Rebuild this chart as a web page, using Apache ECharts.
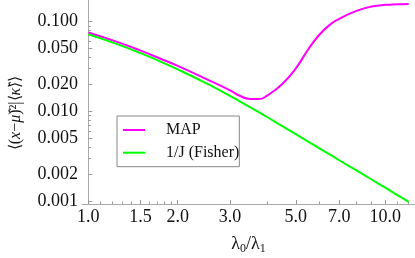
<!DOCTYPE html>
<html><head><meta charset="utf-8">
<script src="https://cdn.jsdelivr.net/npm/echarts@6/dist/echarts.min.js"></script>
<style>html,body{margin:0;padding:0;background:#fff}#c{width:415px;height:258px}</style>
</head><body><div id="c"></div>
<script>
// lambda0/lambda1 sample positions
const ratio = [1.0,1.25,1.5,1.75,2.0,2.5,3.0,3.25,3.5,3.75,4.0,4.5,5.0,5.5,6.0,6.5,7.0,8.0,9.0,10.0,11.0,12.0];
// MAP curve
const mapValues = [0.0757,0.0595,0.0476,0.0387,0.0322,0.0230,0.01725,0.01490,0.01385,0.01380,0.01505,0.0203,0.0303,0.0490,0.0715,0.0921,0.1075,0.1318,0.1472,0.1537,0.1557,0.1569];
// 1/J (Fisher) curve
const fisherValues = [0.0723,0.0562,0.0446,0.0360,0.0295,0.0206,0.0150,0.01295,0.01125,0.00985,0.00871,0.00690,0.00561,0.00464,0.00391,0.00334,0.00288,0.00222,0.00176,0.00143,0.00118,0.000995];
const seriesNames = ['MAP','1/J (Fisher)'];
const xMajorTicks = [1.0,1.5,2.0,3.0,5.0,7.0,10.0];
const xTickLabels = ['1.0','1.5','2.0','3.0','5.0','7.0','10.0'];
const xMinorTicks = [1.1,1.2,1.3,1.4,1.6,1.7,1.8,1.9,4,6,8,9,11,12];
const yMajorTicks = [0.001,0.002,0.005,0.01,0.02,0.05,0.1];
const yTickLabels = ['0.001','0.002','0.005','0.010','0.020','0.050','0.100'];
const yMinorTicks = [0.003,0.004,0.006,0.007,0.008,0.009,0.03,0.04,0.06,0.07,0.08,0.09];
const xRange = [0.952, 12.6];
const yRange = [0.00094, 0.174];

const L = Math.log10;
const font = 'Liberation Serif';
function fmt(ticks, labels) {
  return function (v) {
    for (let i = 0; i < ticks.length; i++) if (Math.abs(L(ticks[i]) - v) < 1e-6) return labels[i];
    return '';
  };
}
const axisGray = '#aaaaaa';
const tickGray = '#999999';
const chart = echarts.init(document.getElementById('c'), null, {renderer: 'canvas'});
chart.setOption({
  animation: false,
  textStyle: {fontFamily: font},
  grid: {left: 82, right: 0, top: 0, bottom: 54, containLabel: false, outerBoundsMode: 'none'},
  legend: {
    data: seriesNames, orient: 'vertical', left: 117, top: 116,
    padding: [4, 0, 4, 6], itemWidth: 22, itemHeight: 2, itemGap: 2.7, icon: 'rect',
    borderColor: '#888', borderWidth: 1,
    textStyle: {fontFamily: font, fontSize: 16, color: '#111', padding: [0, 0, 0, 16], lineHeight: 20}
  },
  xAxis: [{
    type: 'value', position: 'bottom', min: L(xRange[0]), max: L(xRange[1]),
    axisLine: {show: true, lineStyle: {color: axisGray, width: 1}},
    axisTick: {show: true, inside: true, length: 4, customValues: xMajorTicks.map(L), lineStyle: {color: tickGray}},
    axisLabel: {show: true, customValues: xMajorTicks.map(L), formatter: fmt(xMajorTicks, xTickLabels),
      fontFamily: font, fontSize: 18, color: '#111', margin: 4},
    splitLine: {show: false},
    name: '{a|λ}{s|0}{a|/λ}{s|1}', nameLocation: 'middle', nameGap: 29,
    nameTextStyle: {fontFamily: font, fontSize: 18, color: '#111',
      rich: {a: {fontFamily: font, fontSize: 18, color: '#111', lineHeight: 22, verticalAlign: 'middle'},
             s: {fontFamily: font, fontSize: 12, color: '#111', lineHeight: 12, verticalAlign: 'bottom'}}}
  }, {
    type: 'value', position: 'bottom', min: L(xRange[0]), max: L(xRange[1]),
    axisLine: {show: false},
    axisTick: {show: true, inside: true, length: 2.5, customValues: xMinorTicks.map(L), lineStyle: {color: tickGray}},
    axisLabel: {show: false}, splitLine: {show: false}
  }],
  yAxis: [{
    type: 'value', position: 'left', min: L(yRange[0]), max: L(yRange[1]),
    axisLine: {show: true, lineStyle: {color: axisGray, width: 1}},
    axisTick: {show: true, inside: true, length: 4, customValues: yMajorTicks.map(L), lineStyle: {color: tickGray}},
    axisLabel: {show: true, customValues: yMajorTicks.map(L), formatter: fmt(yMajorTicks, yTickLabels),
      fontFamily: font, fontSize: 18, color: '#111', margin: 4},
    splitLine: {show: false},
    name: '⟨({i|x}−{i|μ̂})²|⟨{i|κ̂}⟩⟩', nameLocation: 'middle', nameRotate: 90, nameGap: 58,
    nameTextStyle: {fontFamily: font, fontSize: 16, color: '#111', padding: [0, 22, 0, 0],
      rich: {i: {fontFamily: font, fontSize: 16, fontStyle: 'italic', color: '#111'}}}
  }, {
    type: 'value', position: 'left', min: L(yRange[0]), max: L(yRange[1]),
    axisLine: {show: false},
    axisTick: {show: true, inside: true, length: 2.5, customValues: yMinorTicks.map(L), lineStyle: {color: tickGray}},
    axisLabel: {show: false}, splitLine: {show: false}
  }],
  series: [{
    name: seriesNames[0], type: 'line', xAxisIndex: 0, yAxisIndex: 0,
    data: ratio.map((x, i) => [L(x), L(mapValues[i])]),
    symbol: 'none', smooth: 0.5, color: '#ff00ff',
    lineStyle: {color: '#ff00ff', width: 2}
  }, {
    name: seriesNames[1], type: 'line', xAxisIndex: 0, yAxisIndex: 0,
    data: ratio.map((x, i) => [L(x), L(fisherValues[i])]),
    symbol: 'none', smooth: 0.5, color: '#00ff00',
    lineStyle: {color: '#00ff00', width: 2}
  }]
});
</script>
</body></html>
